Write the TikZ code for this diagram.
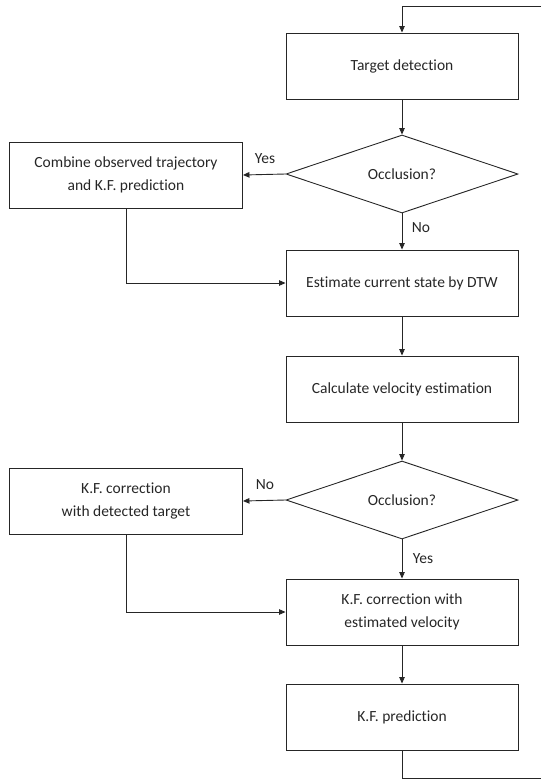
\documentclass[tikz,border=0pt]{standalone}
\usepackage{fontspec}
\setmainfont[Ligatures={NoCommon}]{Carlito}
\usetikzlibrary{shapes.geometric,arrows.meta}
\begin{document}
\begin{tikzpicture}[x=1pt,y=-1pt,
  every node/.style={font=\fontsize{15.5}{22.5}\selectfont, text=black!85},
  procbox/.style={draw=black!85, line width=0.9pt, minimum width=232pt, minimum height=66pt, inner sep=0pt, align=center},
  decision/.style={draw=black!85, line width=0.9pt, diamond, aspect=2.974, minimum width=232pt, minimum height=78pt, inner sep=0pt},
  flow/.style={draw=black!85, line width=0.9pt, -{Triangle[length=6.5pt,width=5.5pt]}},
  plain/.style={draw=black!85, line width=0.9pt},
  lbl/.style={inner sep=0pt}]
\useasboundingbox (0,0) rectangle (541,779);
\node[procbox] (t1) at (402,66) {Target detection};
\node[decision] (d1) at (402,174) {Occlusion?};
\node[procbox, minimum width=233pt] (c1) at (126,175) {Combine observed trajectory\\and K.F. prediction};
\node[procbox] (e) at (402,283) {Estimate current state by DTW};
\node[procbox] (v) at (402,389) {Calculate velocity estimation};
\node[decision] (d2) at (402,500) {Occlusion?};
\node[procbox, minimum width=233pt] (k1) at (126,501) {K.F. correction\\with detected target};
\node[procbox] (k2) at (402,612) {K.F. correction with\\estimated velocity};
\node[procbox] (p) at (402,717) {K.F. prediction};
\node[lbl] (yes1) at (265,159) {Yes};
\node[lbl] (no1) at (421,228) {No};
\node[lbl] (no2) at (265,485) {No};
\node[lbl] (yes2) at (423,559) {Yes};
\coordinate (topin) at (541,6);
\coordinate (botout) at (541,778);
\draw[flow] (topin) -- (t1.north |- topin) -- (t1.north);
\draw[flow] (t1) -- (d1);
\draw[flow] (d1.west) -- (c1.east);
\draw[flow] (d1.south) -- (e.north);
\draw[flow] (c1.south) |- (e.west);
\draw[flow] (e) -- (v);
\draw[flow] (v) -- (d2);
\draw[flow] (d2.west) -- (k1.east);
\draw[flow] (d2.south) -- (k2.north);
\draw[flow] (k1.south) |- (k2.west);
\draw[flow] (k2) -- (p);
\draw[plain] (p.south) |- (botout);
\end{tikzpicture}
\end{document}
